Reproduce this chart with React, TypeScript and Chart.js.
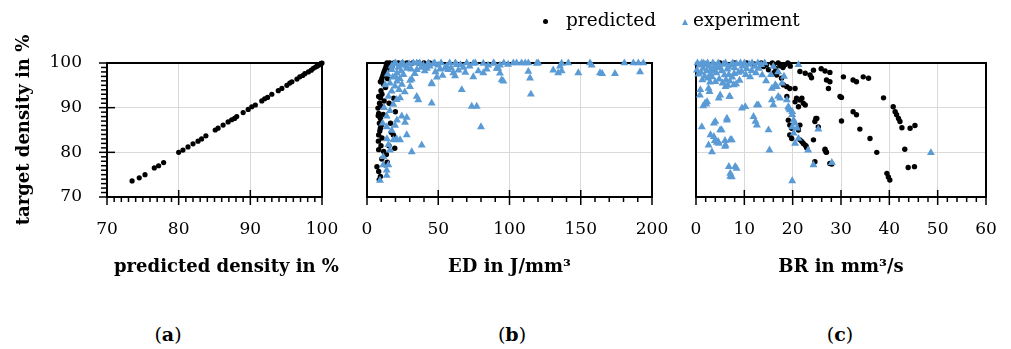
import React, { useEffect, useRef } from "react";
import { Chart, registerables } from "chart.js";

Chart.register(...registerables);

const SERIF = "'DejaVu Serif', 'Liberation Serif', serif";
const BLUE = "#5b9bd5";
const GRID = "#d9d9d9";

// ---------- shared axis ----------
const densityTicks = [70, 80, 90, 100];

// ---------- panel (a): target density vs predicted density ----------
const aXTicks = [70, 80, 90, 100];
const aPoints: [number, number][] = [
  [73.5, 73.6], [74.5, 74.3], [75.3, 75.0], [76.6, 76.5], [77.2, 77.0], [77.9, 77.7],
  [80.0, 80.0], [80.6, 80.5], [81.3, 81.2], [82.0, 81.9], [82.7, 82.5], [83.2, 83.0],
  [83.8, 83.7], [85.1, 85.0], [85.5, 85.4], [86.2, 86.1], [86.9, 86.8], [87.4, 87.3],
  [87.8, 87.6], [88.1, 88.0], [89.0, 88.9], [89.7, 89.6], [90.2, 90.2], [90.7, 90.6],
  [91.6, 91.5], [92.0, 92.0], [92.4, 92.3], [93.0, 93.0], [93.9, 93.8], [94.4, 94.3],
  [95.1, 95.0], [95.5, 95.5], [95.8, 95.8], [96.5, 96.4], [96.9, 96.9], [97.3, 97.2],
  [97.6, 97.6], [98.1, 98.0], [98.5, 98.4], [98.8, 98.8], [99.1, 99.1], [99.3, 99.3],
  [99.5, 99.5], [99.7, 99.7], [99.8, 99.8], [99.9, 99.9], [100, 100],
];

// ---------- panel (b): density vs ED ----------
const bXTicks = [0, 50, 100, 150, 200];
const bPredicted: [number, number][] = [
  [14, 100], [16, 100], [19, 100], [22, 100], [25, 100], [28, 100], [32, 100], [36, 100], [40, 100], [44, 100],
  [12.9, 98.8], [13.5, 99.4], [11.7, 97.7], [12.2, 98.2], [10.5, 96.6], [11.2, 97.2], [12.9, 97.3], [9.4, 95.8],
  [10.2, 96.1], [11.5, 95.3], [8.2, 92.5], [9.4, 92.2], [10.5, 93.0], [9.8, 93.8], [7.7, 89.9], [8.2, 88.7],
  [9.4, 87.6], [8.7, 86.5], [9.4, 85.4], [8.2, 83.9], [10.5, 83.2], [8.2, 80.6], [11.7, 80.2], [7.0, 76.8],
  [8.2, 75.7], [9.4, 74.6], [8.6, 73.9], [18.7, 92.1], [19.9, 89.1], [18.5, 83.9], [19.5, 80.9], [8.8, 91.0],
  [9.6, 90.4], [7.9, 88.2], [10.0, 86.0], [9.0, 84.8], [8.0, 82.5], [9.8, 81.5], [10.4, 78.5], [12.5, 77.2],
  [11.4, 88.5], [12.0, 91.5], [13.0, 94.5], [14.5, 96.5], [16.0, 98.6], [17.5, 99.2], [15.5, 91.0], [16.5, 86.5],
  [17.0, 84.5], [15.4, 81.5], [14.2, 77.8], [13.6, 79.5],
];
const bExperiment: [number, number][] = [
  [9.1, 73.7], [13.8, 74.8], [13.8, 76.0], [11.4, 77.2], [15.0, 77.2], [11.4, 79.0], [16.1, 80.5], [15.0, 81.7],
  [18.5, 82.8], [20.8, 83.0], [17.3, 84.9], [13.8, 85.7], [19.7, 86.0], [21.0, 87.2], [24.4, 88.1], [13.8, 88.1],
  [16.1, 89.3], [18.5, 90.7], [20.8, 91.8], [23.2, 92.2], [15.0, 92.5], [17.3, 93.7], [12.7, 95.1], [16.1, 95.5],
  [19.7, 94.8], [21.0, 95.9], [25.6, 97.4], [21.0, 97.8], [17.3, 98.5], [17.3, 99.3], [19.0, 99.8], [22.0, 99.0],
  [24.0, 98.2], [26.0, 99.5], [28.0, 98.8], [18.0, 96.8], [23.0, 96.5], [14.5, 97.5], [27.9, 87.8], [26.7, 86.7],
  [27.9, 83.9], [23.2, 82.8], [31.4, 80.1], [38.4, 81.6], [30.2, 94.7], [31.4, 96.4], [34.9, 92.5], [36.0, 91.7],
  [45.4, 91.0], [12.0, 90.0], [14.0, 83.0], [11.0, 86.5], [45.4, 95.5],
  [27.9, 99.3], [30.2, 96.1], [34.9, 100], [39.5, 99.5], [43.0, 100], [46.5, 99.8], [45.4, 95.3], [48.0, 98.0],
  [51.2, 98.6], [55.9, 99.3], [58.0, 100], [60.6, 97.8], [61.8, 97.1], [64.1, 98.4], [67.6, 99.0], [70.0, 100],
  [66.5, 94.0], [74.6, 99.9], [74.6, 96.9], [78.1, 98.2], [81.6, 99.9], [81.6, 97.8], [73.5, 90.3], [77.0, 90.3],
  [80.0, 85.7], [85.0, 99.5], [88.7, 99.9], [91.0, 98.8], [92.1, 98.8], [93.3, 97.7], [93.3, 99.5], [94.5, 96.2],
  [95.7, 95.9], [96.0, 100], [102.7, 100], [105.0, 100], [108.5, 100], [111.0, 100], [113.2, 98.1], [113.2, 100],
  [114.4, 96.6], [115.0, 93.0], [119.1, 99.9], [120.2, 100], [130.7, 98.4], [134.2, 97.8], [135.4, 99.3],
  [136.6, 98.2], [136.6, 99.9], [141.3, 100], [148.3, 97.8], [156.5, 100], [157.7, 99.5], [163.5, 97.8],
  [165.0, 97.6], [174.0, 97.6], [180.6, 100], [186.9, 100], [190.4, 100], [191.6, 98.0], [193.9, 100],
  [35.0, 98.5], [38.0, 99.0], [42.0, 98.8], [50.0, 99.5], [53.0, 97.2], [57.0, 98.5], [63.0, 99.6], [72.0, 99.3],
  [76.0, 100], [84.0, 98.6], [89.0, 100], [99.0, 99.7],
  [20.0, 100], [23.5, 99.6], [25.0, 100], [29.5, 99.8], [31.0, 98.6], [32.5, 100], [33.5, 97.6], [37.0, 100],
  [40.5, 98.2], [44.0, 99.3], [47.5, 100], [49.0, 96.8], [52.0, 100], [54.5, 98.8], [59.0, 98.9], [62.0, 100],
  [65.5, 99.6], [69.0, 97.9], [24.5, 95.2], [26.5, 93.5], [22.5, 94.0], [20.0, 97.0],
];

// ---------- panel (c): density vs BR ----------
const cXTicks = [0, 10, 20, 30, 40, 50, 60];
const cPredicted: [number, number][] = [
  [5, 100], [8, 100], [10.5, 100], [12, 99.8], [13.5, 100], [14.6, 99.6], [16, 99.6], [17.4, 99.4], [18.4, 99.6],
  [19.5, 99.3], [15, 98.5], [16.5, 98.8], [16.7, 97.3], [17.7, 96.6], [18.1, 95.1], [18.8, 94.7], [19.4, 94.3],
  [18.8, 92.5], [20.5, 91.3], [21.5, 91.7], [22.2, 91.0], [19.1, 87.2], [19.4, 86.1], [19.8, 85.4], [19.4, 83.9],
  [19.8, 83.1], [21.5, 82.8], [22.2, 82.0], [22.8, 81.4], [24.3, 82.8], [24.6, 86.9], [25.0, 87.6], [26.7, 80.7],
  [26.9, 80.1], [24.6, 77.9], [28.1, 77.4], [21.5, 98.1], [22.6, 97.7], [23.6, 97.3], [23.9, 96.7], [24.3, 98.4],
  [25.9, 98.7], [26.7, 98.2], [27.7, 97.9], [27.0, 96.2], [27.7, 95.8], [27.4, 94.3], [30.5, 96.9], [32.5, 96.2],
  [33.2, 95.8], [34.6, 96.9], [35.7, 96.6], [29.8, 92.5], [30.1, 92.3], [38.8, 92.2], [20.5, 94.3], [20.8, 92.1],
  [21.9, 92.1], [21.2, 90.2], [22.6, 90.6], [24.8, 87.6], [25.3, 85.7], [30.1, 87.0], [32.5, 89.1], [33.2, 88.4],
  [33.9, 85.2], [36.0, 83.1], [37.4, 80.0], [40.8, 90.2], [41.2, 89.1], [41.5, 88.4], [41.9, 87.6], [42.2, 86.9],
  [42.6, 85.5], [44.3, 85.4], [45.3, 86.0], [43.2, 80.7], [43.9, 76.6], [45.2, 76.8], [39.5, 75.3], [39.8, 74.5],
  [40.1, 73.8], [21.5, 86.1], [21.2, 85.0], [21.9, 82.4], [22.6, 81.6], [22.9, 81.0], [26.7, 80.5], [27.0, 80.0],
  [27.7, 77.5], [15.8, 100], [17.0, 100], [18.0, 99.0], [19.0, 100], [14.0, 99.2], [16.2, 97.9],
];
const cExperiment: [number, number][] = [
  [0.3, 100], [0.8, 99.5], [1.2, 100], [1.5, 98.8], [2.0, 99.6], [2.4, 100], [2.8, 99.2], [3.1, 98.5], [3.5, 100],
  [3.9, 99.4], [4.2, 97.8], [4.6, 100], [5.0, 99.0], [5.3, 98.2], [5.7, 99.7], [6.1, 100], [6.5, 98.6], [6.8, 97.4],
  [7.2, 99.5], [7.6, 100], [8.0, 98.9], [8.4, 99.8], [8.8, 97.9], [9.2, 100], [9.6, 99.3], [10.0, 100], [10.5, 98.7],
  [11.0, 99.7], [11.6, 100], [12.2, 99.2], [12.8, 100], [13.5, 99.6], [14.2, 100], [0.5, 97.5], [1.8, 97.0],
  [2.5, 96.6], [3.3, 96.9], [4.0, 95.8], [4.8, 96.4], [5.5, 95.5], [6.2, 96.2], [7.0, 95.9], [7.5, 96.8], [8.3, 95.3],
  [9.0, 96.1], [11.2, 96.9], [13.0, 98.8], [13.7, 97.3],
  [0.2, 98.4], [1.0, 97.9], [1.6, 99.9], [2.2, 98.2], [3.0, 97.5], [3.8, 98.3], [4.4, 98.9], [5.9, 97.3], [6.7, 99.1],
  [7.9, 97.6], [9.4, 98.1], [10.3, 97.4], [11.5, 98.3], [12.4, 97.8], [1.3, 96.2], [2.9, 95.7], [6.6, 95.0],
  [0.9, 94.0], [1.9, 91.0], [2.3, 91.3], [2.6, 94.3], [5.0, 92.8], [4.7, 92.1], [6.9, 92.5], [6.1, 94.7], [7.8, 95.1],
  [1.2, 85.7], [4.0, 86.9], [3.7, 86.5], [3.0, 83.9], [3.7, 83.5], [2.6, 81.6], [3.3, 80.1], [4.6, 82.4], [4.7, 82.0],
  [5.0, 85.0], [6.4, 87.6], [7.1, 82.8], [6.1, 81.6], [6.8, 76.8], [8.1, 76.8], [7.1, 75.3], [7.1, 74.6], [9.5, 89.9],
  [10.2, 90.2], [12.6, 90.6], [11.9, 88.0], [12.3, 86.9], [12.6, 86.1], [15.0, 85.0], [15.2, 80.5], [19.9, 73.6],
  [15.7, 94.3], [16.4, 95.1], [16.0, 90.6], [17.4, 92.1], [19.2, 89.9], [19.9, 89.1], [19.9, 88.4], [20.2, 87.2],
  [20.5, 86.5], [19.9, 85.7], [20.9, 85.4], [20.2, 84.3], [21.2, 83.1], [20.5, 82.0], [0.8, 92.8], [1.5, 90.4],
  [2.1, 90.8], [2.8, 93.6], [3.9, 82.6], [4.3, 82.2], [6.0, 82.6], [5.3, 85.0], [7.0, 92.5], [6.4, 87.2], [7.4, 82.8],
  [6.0, 81.3], [8.4, 76.4], [7.4, 74.5], [12.9, 90.6], [15.7, 91.7], [17.0, 92.5], [16.7, 94.7], [18.8, 91.7],
  [19.1, 90.2], [19.4, 89.5], [21.2, 99.6], [23.2, 80.5], [24.3, 77.2], [25.3, 85.2], [28.1, 77.7], [48.6, 79.9],
  [16.0, 99.2], [17.0, 98.0], [15.5, 97.4], [18.2, 97.0], [17.8, 95.5], [14.5, 96.0],
];

const tickFont = { family: SERIF, size: 17 };
const titleFont = { family: SERIF, size: 18, weight: "bold" as const };

// ---------- plugin: box, Excel-like major/minor tick marks, free x title ----------
const framePlugin = {
  id: "frame",
  beforeDatasetsDraw(chart: any, _args: any, opts: any) {
    const { ctx, chartArea, scales } = chart;
    const { left, right, top, bottom } = chartArea;
    ctx.save();
    ctx.strokeStyle = "#000";
    ctx.lineWidth = 1.5;
    const xs = scales.x;
    const nx = Math.round((xs.max - xs.min) / opts.xMinor);
    for (let i = 0; i <= nx; i++) {
      const v = xs.min + i * opts.xMinor;
      const px = xs.getPixelForValue(v);
      const major = Math.abs(v / opts.xMajor - Math.round(v / opts.xMajor)) < 1e-6;
      ctx.beginPath();
      ctx.moveTo(px, major ? bottom - 7 : bottom);
      ctx.lineTo(px, bottom + (major ? 8 : 5));
      ctx.stroke();
    }
    if (opts.yMinor) {
      const ys = scales.y;
      const ny = Math.round((ys.max - ys.min) / opts.yMinor);
      for (let i = 0; i <= ny; i++) {
        const v = ys.min + i * opts.yMinor;
        const py = ys.getPixelForValue(v);
        const major = Math.abs(v / opts.yMajor - Math.round(v / opts.yMajor)) < 1e-6;
        ctx.beginPath();
        ctx.moveTo(left - (major ? 8 : 6), py);
        ctx.lineTo(major ? left + 8 : left, py);
        ctx.stroke();
      }
    }
    ctx.lineWidth = 2;
    ctx.strokeRect(left, top, right - left, bottom - top);
    if (opts.freeTitle) {
      ctx.fillStyle = "#000";
      ctx.font = `bold ${titleFont.size}px ${SERIF}`;
      ctx.textAlign = "center";
      ctx.textBaseline = "middle";
      ctx.fillText(opts.freeTitle, (left + right) / 2 + opts.freeTitleShift, xs.bottom - titleFont.size * 0.6);
    }
    ctx.restore();
  },
};

function makeConfig(opts: {
  xTicks: number[];
  xTitle: string;
  freeTitle?: boolean;
  showY: boolean;
  padLeft: number;
  padRight: number;
  frame: any;
  datasets: any[];
}) {
  return {
    type: "scatter" as const,
    data: { datasets: opts.datasets },
    plugins: [framePlugin],
    options: {
      animation: false,
      responsive: false,
      events: [],
      layout: { padding: { left: opts.padLeft, right: opts.padRight, top: 63, bottom: 22 } },
      plugins: {
        legend: { display: false },
        tooltip: { enabled: false },
        frame: opts.frame,
      },
      scales: {
        x: {
          type: "linear",
          min: opts.xTicks[0],
          max: opts.xTicks[opts.xTicks.length - 1],
          afterBuildTicks: (s: any) => {
            s.ticks = opts.xTicks.map((v) => ({ value: v }));
          },
          ticks: { color: "#000", font: tickFont, padding: 22, maxRotation: 0, autoSkip: false },
          grid: { color: GRID, lineWidth: 1, drawTicks: false },
          border: { display: false },
          title: { display: !opts.freeTitle, text: opts.xTitle, color: "#000", font: titleFont, padding: 0 },
          afterFit: (s: any) => {
            s.height = 81;
            s.paddingLeft = 0;
            s.paddingRight = 0;
          },
        },
        y: {
          type: "linear",
          min: densityTicks[0],
          max: densityTicks[densityTicks.length - 1],
          afterBuildTicks: (s: any) => {
            s.ticks = densityTicks.map((v) => ({ value: v }));
          },
          ticks: { display: opts.showY, color: "#000", font: tickFont, padding: 25 },
          grid: { color: GRID, lineWidth: 1, drawTicks: false },
          border: { display: false },
          title: {
            display: opts.showY,
            text: "target density in %",
            color: "#000",
            font: titleFont,
            padding: 0,
          },
          afterFit: (s: any) => {
            s.width = opts.showY ? 93 : 0;
            s.paddingTop = 0;
            s.paddingBottom = 0;
          },
        },
      },
    },
  };
}

const toXY = (pts: [number, number][]) => pts.map(([x, y]) => ({ x, y }));

const predictedStyle = {
  pointStyle: "circle",
  pointRadius: 2.7,
  pointBackgroundColor: "#000",
  pointBorderWidth: 0,
  pointBorderColor: "#000",
  clip: false,
  order: 1,
};
const experimentStyle = {
  pointStyle: "triangle",
  pointRadius: 4.6,
  pointBackgroundColor: BLUE,
  pointBorderWidth: 0,
  pointBorderColor: BLUE,
  clip: false,
  order: 0,
};

export default function App() {
  const aRef = useRef<HTMLCanvasElement>(null);
  const bRef = useRef<HTMLCanvasElement>(null);
  const cRef = useRef<HTMLCanvasElement>(null);

  useEffect(() => {
    const charts: Chart[] = [];
    charts.push(
      new Chart(
        aRef.current!,
        makeConfig({
          xTicks: aXTicks,
          xTitle: "predicted density in %",
          freeTitle: true,
          showY: true,
          padLeft: 14,
          padRight: 23,
          frame: {
            xMinor: 1, xMajor: 10, yMinor: 1, yMajor: 10,
            freeTitle: "predicted density in %", freeTitleShift: 12,
          },
          datasets: [{ label: "predicted", data: toXY(aPoints), ...predictedStyle, pointRadius: 2.6 }],
        }) as any
      )
    );
    charts.push(
      new Chart(
        bRef.current!,
        makeConfig({
          xTicks: bXTicks,
          xTitle: "ED in J/mm³",
          showY: false,
          padLeft: 27,
          padRight: 18,
          frame: { xMinor: 10, xMajor: 50 },
          datasets: [
            { label: "predicted", data: toXY(bPredicted), ...predictedStyle },
            { label: "experiment", data: toXY(bExperiment), ...experimentStyle },
          ],
        }) as any
      )
    );
    charts.push(
      new Chart(
        cRef.current!,
        makeConfig({
          xTicks: cXTicks,
          xTitle: "BR in mm³/s",
          showY: false,
          padLeft: 26,
          padRight: 25,
          frame: { xMinor: 2, xMajor: 10 },
          datasets: [
            { label: "predicted", data: toXY(cPredicted), ...predictedStyle },
            { label: "experiment", data: toXY(cExperiment), ...experimentStyle },
          ],
        }) as any
      )
    );
    return () => charts.forEach((c) => c.destroy());
  }, []);

  const text: React.CSSProperties = {
    position: "absolute",
    fontFamily: SERIF,
    color: "#000",
    whiteSpace: "nowrap",
  };

  return (
    <div style={{ position: "absolute", left: 0, top: 0, width: 1011, height: 349, background: "#fff", overflow: "hidden" }}>
      <canvas ref={aRef} width={345} height={300} style={{ position: "absolute", left: 0, top: 0 }} />
      <canvas ref={bRef} width={330} height={300} style={{ position: "absolute", left: 340, top: 0 }} />
      <canvas ref={cRef} width={341} height={300} style={{ position: "absolute", left: 670, top: 0 }} />

      {/* legend */}
      <div style={{ position: "absolute", left: 542.5, top: 18.5, width: 5, height: 5, borderRadius: "50%", background: "#000" }} />
      <div style={{ ...text, left: 566, top: 9.3, fontSize: 18.5, lineHeight: "22px" }}>predicted</div>
      <div
        style={{
          position: "absolute",
          left: 681.5,
          top: 18.5,
          width: 0,
          height: 0,
          borderLeft: "3.5px solid transparent",
          borderRight: "3.5px solid transparent",
          borderBottom: `6px solid ${BLUE}`,
        }}
      />
      <div style={{ ...text, left: 693, top: 9.3, fontSize: 18.5, lineHeight: "22px" }}>experiment</div>

      {/* captions */}
      {[
        { x: 168, l: "a" },
        { x: 512, l: "b" },
        { x: 840, l: "c" },
      ].map((c) => (
        <div
          key={c.l}
          style={{ ...text, left: c.x - 40, width: 80, textAlign: "center", top: 322.5, fontSize: 19, lineHeight: "22px" }}
        >
          (<b>{c.l}</b>)
        </div>
      ))}
    </div>
  );
}
